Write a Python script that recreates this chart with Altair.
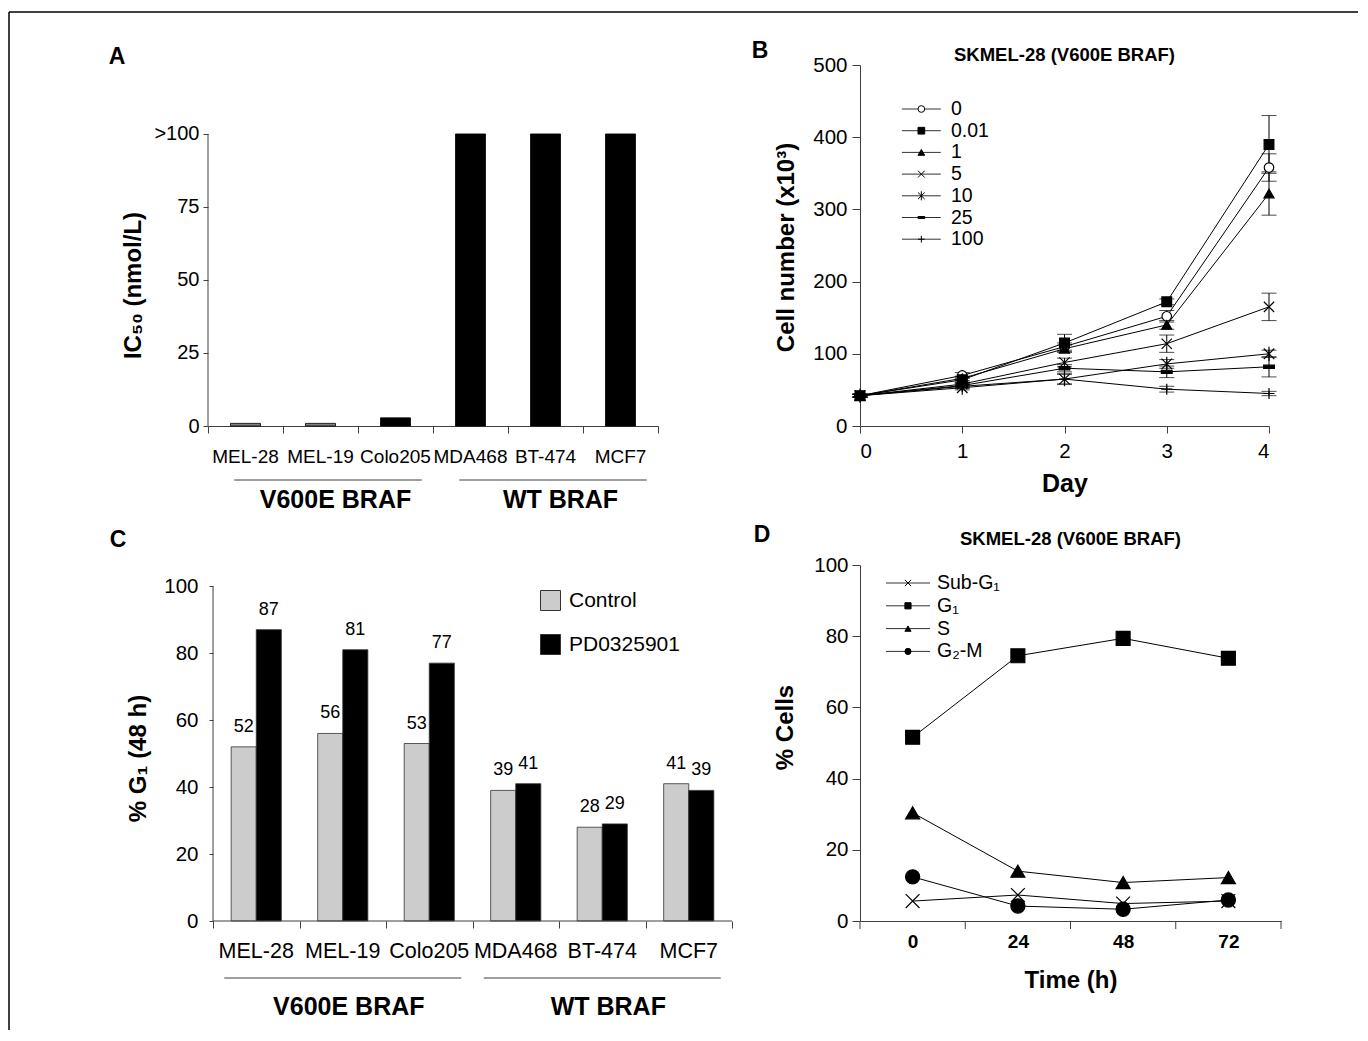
import altair as alt
import pandas as pd

FONT = "Liberation Sans"
AX = "#404040"

# ---------------- data ----------------
# Panel A
cell_lines = ["MEL-28", "MEL-19", "Colo205", "MDA468", "BT-474", "MCF7"]
ic50 = [0.9, 0.9, 2.8, 100, 100, 100]
ic50_fill = ["#808080", "#808080", "#000000", "#000000", "#000000", "#000000"]
group_names = ["V600E BRAF", "WT BRAF"]
group_first = [0, 3]
group_last = [2, 5]

# Panel B
days = [0, 1, 2, 3, 4]
doses = ["0", "0.01", "1", "5", "10", "25", "100"]
cells_0 = [42, 70, 110, 152, 358]
cells_001 = [42, 64, 115, 172, 390]
cells_1 = [42, 66, 107, 140, 322]
cells_5 = [42, 58, 88, 114, 165]
cells_10 = [42, 53, 65, 86, 100]
cells_25 = [42, 56, 80, 75, 82]
cells_100 = [42, 55, 65, 51, 45]
err_0 = [2, 4, 5, 8, 19]
err_001 = [2, 4, 12, 4, 40]
err_1 = [2, 3, 5, 6, 30]
err_5 = [2, 3, 6, 12, 19]
err_10 = [2, 3, 7, 6, 5]
err_25 = [2, 3, 5, 8, 14]
err_100 = [2, 3, 7, 4, 3]

# Panel C
g1_control = [52, 56, 53, 39, 28, 41]
g1_pd = [87, 81, 77, 41, 29, 39]
treatments = ["Control", "PD0325901"]

# Panel D
hours = [0, 24, 48, 72]
phases = ["Sub-G\u2081", "G\u2081", "S", "G\u2082-M"]
sub_g1 = [5.6, 7.3, 4.9, 5.6]
g1 = [51.6, 74.5, 79.4, 73.8]
s_phase = [30.4, 14.0, 10.8, 12.2]
g2m = [12.4, 4.2, 3.3, 5.9]

# ---------------- geometry ----------------
A_W, B_W, C_W, D_W = 450, 409, 524, 421
R1_H, R2_H = 361, 356
A_YMAX = 123.6
C_YMAX = 106.3
C_XMIN = -0.058

one = pd.DataFrame({"k": [0]})


def letter(t, x, y):
    return alt.Chart(one).mark_text(text=t, fontSize=23, fontWeight="bold",
                                    align="center", baseline="middle").encode(
        x=alt.value(x), y=alt.value(y))


def ptitle(t, x, y):
    return alt.Chart(one).mark_text(text=t, fontSize=18.5, fontWeight="bold",
                                    align="center", baseline="middle").encode(
        x=alt.value(x), y=alt.value(y))


# ---------------- Panel A ----------------
dfA = pd.DataFrame({"line": cell_lines, "idx": list(range(len(cell_lines))),
                    "ic50": ic50, "fill": ic50_fill})
xA = alt.Scale(domain=[0, len(cell_lines)], nice=False, zero=False)
yA = alt.Scale(domain=[0, A_YMAX], nice=False, zero=True)

barsA = alt.Chart(dfA).transform_calculate(
    x0="datum.idx + 0.3", x1="datum.idx + 0.7", base="0"
).mark_bar(stroke="black", strokeWidth=0.8).encode(
    x=alt.X("x0:Q", scale=xA, axis=alt.Axis(values=list(range(len(cell_lines) + 1)),
                                            labels=False, tickSize=7, title=None)),
    x2="x1:Q",
    y=alt.Y("ic50:Q", scale=yA, axis=alt.Axis(
        values=[0, 25, 50, 75, 100],
        labelExpr="datum.value == 100 ? '>100' : datum.label",
        domain=False, tickSize=5, labelFontSize=20, labelPadding=4,
        title="IC\u2085\u2080  (nmol/L)", titleFontSize=24, titleFontWeight="bold",
        titleAngle=270, titleX=-75, titleY=220, titleBaseline="middle", titleAlign="center")),
    y2="base:Q",
    fill=alt.Fill("fill:N", scale=None),
)
ydomA = alt.Chart(pd.DataFrame({"ic50": [0], "top": [max(ic50)]})).mark_rule(
    color=AX, strokeWidth=1).encode(x=alt.value(0), y=alt.Y("ic50:Q", scale=yA), y2="top:Q")
labA = alt.Chart(dfA).transform_calculate(xc="datum.idx + 0.5").mark_text(
    fontSize=19, baseline="middle", align="center").encode(
    x=alt.X("xc:Q", scale=xA), y=alt.value(R1_H + 31), text="line:N")
dfG = pd.DataFrame({"name": group_names, "first": group_first, "last": group_last})
grpLineA = alt.Chart(dfG).transform_calculate(
    g0="datum.first + 0.35", g1="datum.last + 0.85"
).mark_rule(color=AX, strokeWidth=1).encode(
    x=alt.X("g0:Q", scale=xA), x2="g1:Q", y=alt.value(R1_H + 54))
grpTextA = alt.Chart(dfG).transform_calculate(
    gc="(datum.first + datum.last) / 2 + 0.7"
).mark_text(fontSize=25, fontWeight="bold", baseline="middle").encode(
    x=alt.X("gc:Q", scale=xA), y=alt.value(R1_H + 74), text="name:N")
borderL = alt.Chart(one).mark_rule(color="black", strokeWidth=1.5).encode(
    x=alt.value(-199), y=alt.value(-53), y2=alt.value(965))
borderT = alt.Chart(one).mark_rule(color="black", strokeWidth=1.5).encode(
    x=alt.value(-199), x2=alt.value(1150), y=alt.value(-53))

panelA = alt.layer(barsA, ydomA, labA, grpLineA, grpTextA, letter("A", -91, -8),
                   borderL, borderT).properties(width=A_W, height=R1_H)

# ---------------- Panel B ----------------
b_series = [cells_0, cells_001, cells_1, cells_5, cells_10, cells_25, cells_100]
b_errs = [err_0, err_001, err_1, err_5, err_10, err_25, err_100]
rows = []
for i, (d, vals, errs) in enumerate(zip(doses, b_series, b_errs)):
    for day, v, e in zip(days, vals, errs):
        rows.append({"dose": d, "order": i, "day": day, "cells": v, "lo": v - e, "hi": v + e})
dfB = pd.DataFrame(rows)
xB = alt.Scale(domain=[days[0], days[-1]], nice=False, zero=False)
yB = alt.Scale(domain=[0, 500], nice=False)
shapesB = ["circle", "square", "triangle-up", "M-1,-1L1,1M-1,1L1,-1",
           "M-1,-1L1,1M-1,1L1,-1M0,-1.35L0,1.35", "M-1,-0.3L1,-0.3L1,0.3L-1,0.3Z",
           "M-1,0L1,0M0,-1L0,1"]
fillsB = ["white", "black", "black", "black", "black", "black", "black"]
sizesB = [90, 121, 130, 256, 225, 144, 144]
shapeB = alt.Shape("dose:N", scale=alt.Scale(domain=doses, range=shapesB), legend=None)
fillB = alt.Fill("dose:N", scale=alt.Scale(domain=doses, range=fillsB), legend=None)

linesB = alt.Chart(dfB).mark_line(color="black", strokeWidth=1).encode(
    x=alt.X("day:Q", scale=xB, axis=alt.Axis(
        values=days, format="d", tickSize=7, labelFontSize=20.5, labelPadding=8,
        title="Day", titleFontSize=25, titleFontWeight="bold", titleY=57,
        titleBaseline="middle")),
    y=alt.Y("cells:Q", scale=yB, axis=alt.Axis(
        values=[0, 100, 200, 300, 400, 500], tickSize=8, labelFontSize=20.5, labelPadding=5,
        title="Cell number (x10\u00b3)", titleFontSize=24, titleFontWeight="bold",
        titleAngle=270, titleX=-74, titleY=182, titleBaseline="middle", titleAlign="center")),
    detail="dose:N",
)
errB = alt.Chart(dfB).mark_rule(color="black", strokeWidth=1).encode(
    x=alt.X("day:Q", scale=xB), y=alt.Y("lo:Q", scale=yB), y2="hi:Q")
capLoB = alt.Chart(dfB).mark_tick(orient="horizontal", size=15, thickness=1, color="black").encode(
    x=alt.X("day:Q", scale=xB), y=alt.Y("lo:Q", scale=yB))
capHiB = alt.Chart(dfB).mark_tick(orient="horizontal", size=15, thickness=1, color="black").encode(
    x=alt.X("day:Q", scale=xB), y=alt.Y("hi:Q", scale=yB))
ptsB = alt.Chart(dfB).mark_point(stroke="black", strokeWidth=1.2, opacity=1).encode(
    x=alt.X("day:Q", scale=xB), y=alt.Y("cells:Q", scale=yB),
    shape=shapeB, fill=fillB,
    size=alt.Size("dose:N", scale=alt.Scale(domain=doses, range=sizesB), legend=None),
)
dfLegB = pd.DataFrame({"dose": doses, "order": list(range(len(doses)))})
legBase = alt.Chart(dfLegB).transform_calculate(
    ly="500 - (44 + 21.7 * datum.order) / 0.722", lx0="0.41", lx1="0.79", lxm="0.60", lxt="0.89")
legLineB = legBase.mark_rule(color="#333", strokeWidth=1).encode(
    x=alt.X("lx0:Q", scale=xB), x2="lx1:Q", y=alt.Y("ly:Q", scale=yB))
legPtB = legBase.mark_point(stroke="black", strokeWidth=1, opacity=1, size=45).encode(
    x=alt.X("lxm:Q", scale=xB), y=alt.Y("ly:Q", scale=yB), shape=shapeB, fill=fillB)
legTxtB = legBase.mark_text(fontSize=19.5, align="left", baseline="middle").encode(
    x=alt.X("lxt:Q", scale=xB), y=alt.Y("ly:Q", scale=yB), text="dose:N")

panelB = alt.layer(linesB, errB, capLoB, capHiB, ptsB, legLineB, legPtB, legTxtB,
                   letter("B", -100, -14), ptitle("SKMEL-28 (V600E BRAF)", B_W / 2, -10)
                   ).properties(width=B_W, height=R1_H)

# ---------------- Panel C ----------------
rowsC = []
for i, ln in enumerate(cell_lines):
    rowsC.append({"line": ln, "idx": i, "trt": treatments[0], "s": 0, "val": g1_control[i]})
    rowsC.append({"line": ln, "idx": i, "trt": treatments[1], "s": 1, "val": g1_pd[i]})
dfC = pd.DataFrame(rowsC)
xC = alt.Scale(domain=[C_XMIN, len(cell_lines)], nice=False, zero=False)
yC = alt.Scale(domain=[0, C_YMAX], nice=False, zero=True)
baseC = alt.Chart(dfC).transform_calculate(
    x0="datum.idx + 0.21 + 0.29 * datum.s", x1="datum.x0 + 0.29", xc="datum.x0 + 0.145",
    base="0")
barsC = baseC.mark_bar(stroke="#333", strokeWidth=0.8).encode(
    x=alt.X("x0:Q", scale=xC, axis=alt.Axis(values=list(range(len(cell_lines) + 1)),
                                            labels=False, tickSize=7, title=None,
                                            domain=False)),
    x2="x1:Q",
    y=alt.Y("val:Q", scale=yC, axis=alt.Axis(
        values=list(range(0, 101, 10)),
        labelExpr="datum.value % 20 == 0 ? datum.label : ''",
        domain=False, tickSize=4, labelFontSize=20.5, labelPadding=11, offset=-5,
        title="%  G\u2081 (48 h)", titleFontSize=24, titleFontWeight="bold",
        titleAngle=270, titleX=-75, titleY=193, titleBaseline="middle", titleAlign="center")),
    y2="base:Q",
    fill=alt.Fill("trt:N", scale=alt.Scale(domain=treatments, range=["#cccccc", "#000000"]),
                  legend=alt.Legend(title=None, orient="none", legendX=332, legendY=25,
                                    symbolType="square", symbolSize=400,
                                    symbolStrokeColor="#333", symbolStrokeWidth=1,
                                    labelFontSize=21, labelOffset=8, rowPadding=19,
                                    padding=0, labelFont=FONT, labelColor="black")),
)
valC = baseC.mark_text(fontSize=18, dy=-20, baseline="middle", align="center").encode(
    x=alt.X("xc:Q", scale=xC), y=alt.Y("val:Q", scale=yC), text="val:Q")
ydomC = alt.Chart(pd.DataFrame({"x0": [0], "val": [0], "top": [100]})).mark_rule(
    color=AX, strokeWidth=1).encode(x=alt.X("x0:Q", scale=xC), y=alt.Y("val:Q", scale=yC),
                                    y2="top:Q")
xdomC = alt.Chart(pd.DataFrame({"x0": [0], "x1": [len(cell_lines)], "val": [0]})).mark_rule(
    color=AX, strokeWidth=1).encode(x=alt.X("x0:Q", scale=xC), x2="x1:Q",
                                    y=alt.Y("val:Q", scale=yC))
labC = alt.Chart(dfA).transform_calculate(xc="datum.idx + 0.5").mark_text(
    fontSize=21.5, baseline="middle", align="center").encode(
    x=alt.X("xc:Q", scale=xC), y=alt.value(R2_H + 31), text="line:N")
grpLineC = alt.Chart(dfG).transform_calculate(
    g0="datum.first + 0.13", g1="datum.last + 0.87"
).mark_rule(color=AX, strokeWidth=1).encode(
    x=alt.X("g0:Q", scale=xC), x2="g1:Q", y=alt.value(R2_H + 57))
grpTextC = alt.Chart(dfG).transform_calculate(
    gc="(datum.first + datum.last) / 2 + 0.57"
).mark_text(fontSize=25, fontWeight="bold", baseline="middle").encode(
    x=alt.X("gc:Q", scale=xC), y=alt.value(R2_H + 86), text="name:N")

panelC = alt.layer(barsC, valC, ydomC, xdomC, labC, grpLineC, grpTextC,
                   letter("C", -90, -25)).properties(width=C_W, height=R2_H)

# ---------------- Panel D ----------------
d_series = [sub_g1, g1, s_phase, g2m]
rowsD = []
for i, (p, vals) in enumerate(zip(phases, d_series)):
    for h, v in zip(hours, vals):
        rowsD.append({"phase": p, "order": i, "hour": h, "pct": v})
dfD = pd.DataFrame(rowsD)
xD = alt.Scale(domain=[hours[0] - 12, hours[-1] + 12], nice=False, zero=False)
yD = alt.Scale(domain=[0, 100], nice=False)
shapesD = ["M-1,-1L1,1M-1,1L1,-1", "square", "triangle-up", "circle"]
shapeD = alt.Shape("phase:N", scale=alt.Scale(domain=phases, range=shapesD), legend=None)

linesD = alt.Chart(dfD).mark_line(color="black", strokeWidth=1).encode(
    x=alt.X("hour:Q", scale=xD, axis=alt.Axis(
        values=hours, ticks=False, tickSize=0, labelFontSize=19, labelFontWeight="bold",
        labelPadding=11, title="Time (h)", titleFontSize=24, titleFontWeight="bold",
        titleY=59, titleBaseline="middle")),
    y=alt.Y("pct:Q", scale=yD, axis=alt.Axis(
        values=list(range(0, 101, 20)), tickSize=8, labelFontSize=20.5, labelPadding=4,
        title="% Cells", titleFontSize=24, titleFontWeight="bold",
        titleAngle=270, titleX=-75, titleY=162, titleBaseline="middle", titleAlign="center")),
    detail="phase:N",
)
ptsD = alt.Chart(dfD).mark_point(stroke="black", fill="black", strokeWidth=1.2, opacity=1).encode(
    x=alt.X("hour:Q", scale=xD), y=alt.Y("pct:Q", scale=yD), shape=shapeD,
    size=alt.Size("phase:N", scale=alt.Scale(domain=phases, range=[190, 200, 230, 150]),
                  legend=None),
)
dfTickD = pd.DataFrame({"b": [h - 12 for h in hours] + [hours[-1] + 12]})
ticksD = alt.Chart(dfTickD).mark_rule(color=AX, strokeWidth=1).encode(
    x=alt.X("b:Q", scale=xD), y=alt.value(R2_H), y2=alt.value(R2_H + 8))
dfLegD = pd.DataFrame({"phase": phases, "order": list(range(len(phases)))})
legBaseD = alt.Chart(dfLegD).transform_calculate(
    ly="100 - (18 + 22.8 * datum.order) / 3.56", lx0="-6.07", lx1="3.96", lxm="-1.06",
    lxt="5.56")
legLineD = legBaseD.mark_rule(color="#333", strokeWidth=1).encode(
    x=alt.X("lx0:Q", scale=xD), x2="lx1:Q", y=alt.Y("ly:Q", scale=yD))
legPtD = legBaseD.mark_point(stroke="black", fill="black", strokeWidth=1, opacity=1,
                             size=38).encode(
    x=alt.X("lxm:Q", scale=xD), y=alt.Y("ly:Q", scale=yD), shape=shapeD)
legTxtD = legBaseD.mark_text(fontSize=19.5, align="left", baseline="middle").encode(
    x=alt.X("lxt:Q", scale=xD), y=alt.Y("ly:Q", scale=yD), text="phase:N")

panelD = alt.layer(linesD, ptsD, ticksD, legLineD, legPtD, legTxtD,
                   letter("D", -98, -30), ptitle("SKMEL-28 (V600E BRAF)", D_W / 2, -26)
                   ).properties(width=D_W, height=R2_H)

# ---------------- assemble ----------------
chart = alt.concat(panelA, panelB, panelC, panelD, columns=2,
                   spacing={"row": 139, "column": 128}, bounds="flush").resolve_scale(
    fill="independent", shape="independent", size="independent", color="independent"
).properties(
    padding={"left": 0, "top": 3, "right": 0, "bottom": 0}
).configure(font=FONT, background="white").configure_view(stroke=None).configure_axis(
    grid=False, domainColor=AX, tickColor=AX, labelColor="black", titleColor="black",
    labelFont=FONT, titleFont=FONT, domainWidth=1, tickWidth=1)

chart.save("out.html", embed_options={"renderer": "svg", "actions": False})
